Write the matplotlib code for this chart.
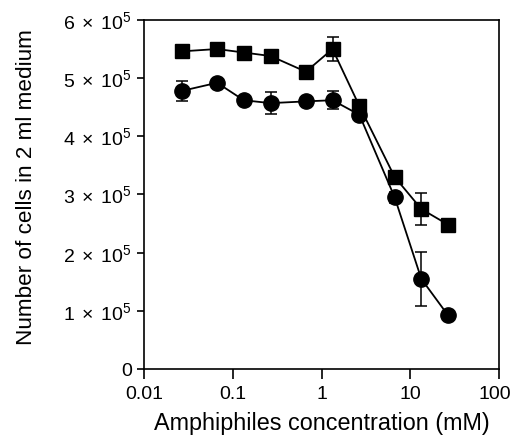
import numpy as np
import matplotlib
matplotlib.use("Agg")
import matplotlib.pyplot as plt
import matplotlib.transforms as mtransforms
from matplotlib.ticker import FixedLocator, FuncFormatter

plt.rcParams['font.family'] = ['Liberation Sans', 'DejaVu Sans']
plt.rcParams['mathtext.fontset'] = 'custom'
plt.rcParams['mathtext.rm'] = 'Liberation Sans'
plt.rcParams['mathtext.it'] = 'Liberation Sans:italic'

# --- data ---
conc_mM = [0.0267, 0.0667, 0.133, 0.267, 0.667, 1.33, 2.67, 6.67, 13.3, 26.7]

squares = [5.46e5, 5.50e5, 5.44e5, 5.38e5, 5.11e5, 5.50e5, 4.52e5, 3.30e5, 2.75e5, 2.48e5]
squares_err = [0, 0, 0, 0, 0, 0.20e5, 0, 0, 0.27e5, 0]

circles = [4.78e5, 4.92e5, 4.62e5, 4.57e5, 4.60e5, 4.62e5, 4.37e5, 2.95e5, 1.55e5, 0.92e5]
circles_err = [0.17e5, 0, 0, 0.19e5, 0, 0.15e5, 0, 0.10e5, 0.46e5, 0]

y_ticks = [0, 1e5, 2e5, 3e5, 4e5, 5e5, 6e5]
x_ticks = [0.01, 0.1, 1, 10, 100]
x_ticklabels = ["0.01", "0.1", "1", "10", "100"]


def y_fmt(v, pos):
    if v == 0:
        return "0"
    m = int(round(v / 1e5))
    return r"$\mathregular{%d\;\times\;10^5}$" % m


fig = plt.figure(figsize=(5.14, 4.43), dpi=100)
ax = fig.add_axes([0.280, 0.167, 0.691, 0.788])

ax.errorbar(conc_mM, squares, yerr=squares_err, fmt='-s', color='black',
            markersize=10.5, linewidth=1.3, elinewidth=1.1, capsize=4.5,
            capthick=1.1, zorder=3)
ax.errorbar(conc_mM, circles, yerr=circles_err, fmt='-o', color='black',
            markersize=11, linewidth=1.3, elinewidth=1.1, capsize=4.5,
            capthick=1.1, zorder=3)

ax.set_xscale('log')
ax.set_xlim(0.01, 100)
ax.set_ylim(0, 6e5)
ax.xaxis.set_major_locator(FixedLocator(x_ticks))
ax.xaxis.set_minor_locator(FixedLocator([]))
ax.set_xticklabels(x_ticklabels)
ax.yaxis.set_major_locator(FixedLocator(y_ticks))
ax.yaxis.set_major_formatter(FuncFormatter(y_fmt))

ax.tick_params(axis='x', direction='out', length=7, width=1.2,
               labelsize=14, pad=5, color='black')
ax.tick_params(axis='y', direction='out', length=5, width=1.2,
               labelsize=14, pad=3.5, color='black')
for s in ax.spines.values():
    s.set_linewidth(1.2)

# the "100" label sits a little left of its tick in the original
last = ax.get_xticklabels()[-1]
last.set_transform(last.get_transform() +
                   mtransforms.ScaledTranslation(-3 / 72, 0, fig.dpi_scale_trans))

ax.set_xlabel("Amphiphiles concentration (mM)", fontsize=16.8, labelpad=7)
ax.set_ylabel("Number of cells in 2 ml medium", fontsize=16.2)
ax.yaxis.set_label_coords(-0.30, 0.52)

fig.savefig("out.png", dpi=100)
